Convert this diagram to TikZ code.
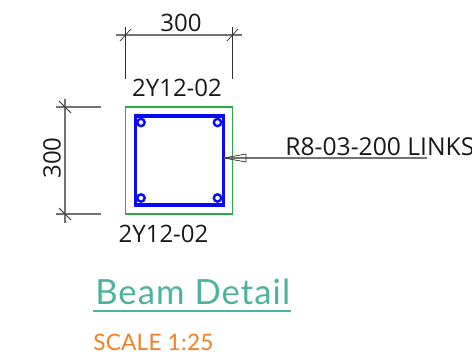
\documentclass[tikz,border=0pt]{standalone}
\usepackage{fontspec}
\setmainfont{Open Sans}
\newfontfamily\titlefont[LetterSpace=3]{Lato}
\newfontfamily\scalefont[LetterSpace=1]{Lato}
\definecolor{titlecol}{HTML}{4DB3A0}
\definecolor{scalecol}{HTML}{F57F25}
\definecolor{barblue}{HTML}{0A0AF0}
\definecolor{outline}{HTML}{2DAA48}
\tikzset{
  dimline/.style={draw=black!55,line width=1pt},
  extline/.style={draw=black!80,line width=0.75pt},
  tickline/.style={draw=black!80,line width=0.55pt},
  lbl/.style={inner sep=0pt,font=\fontsize{18}{20}\selectfont,text=black!90},
  bar/.style={draw=barblue,line width=1.8pt,fill=white}
}
\begin{document}
\begin{tikzpicture}[x=0.75pt,y=-0.75pt]
\useasboundingbox (0,0) rectangle (472,360);
\clip (0,0) rectangle (472,360);
% beam outline and link
\draw[draw=outline,line width=1.05pt] (125.7,107) rectangle (232.5,214);
\draw[draw=barblue,line width=2.5pt] (135.5,116) rectangle (223.5,205);
\foreach \nm/\px/\py in {ba/141/122.5,bb/217.5/122.5,bc/141/198,bd/217.5/198}
  \node[circle,bar,minimum size=5.5pt,inner sep=0pt] (\nm) at (\px,\py) {};
% top dimension
\coordinate (t1) at (116,35); \coordinate (t2) at (241.5,35);
\coordinate (t1a) at (125.7,27); \coordinate (t1b) at (125.7,79);
\coordinate (t2a) at (232.3,27); \coordinate (t2b) at (232.3,79);
\draw[dimline] (t1) -- (t2);
\draw[extline] (t1a) -- (t1b);
\draw[extline] (t2a) -- (t2b);
\draw[tickline] (120,41) -- (131,29);
\draw[tickline] (227,41) -- (238,29);
% left dimension
\coordinate (l1) at (65,99); \coordinate (l2) at (65,223);
\coordinate (l1a) at (56,107); \coordinate (l1b) at (101,107);
\coordinate (l2a) at (56,214); \coordinate (l2b) at (101,214);
\draw[dimline] (l1) -- (l2);
\draw[dimline] (l1a) -- (l1b);
\draw[dimline] (l2a) -- (l2b);
\draw[tickline] (59,101) -- (71,113);
\draw[tickline] (59,208) -- (71,220);
% leader
\coordinate (tip) at (224,158); \coordinate (lend) at (427,158);
\draw[dimline] (lend) -- (tip);
\draw[tickline] (tip) -- (246,154) -- (246,162) -- cycle;
% labels
\node[lbl] (d1) at (181,23) {300};
\node[lbl] (d2) at (52,158) [rotate=90] {300};
\node[lbl] (b1) at (177,88) {2Y12-02};
\node[lbl] (b2) at (163.5,233.5) {2Y12-02};
\node[lbl,anchor=base west,font=\fontsize{18.5}{20}\selectfont] (link) at (285,156) {R8-03-200 LINKS};
\node[inner sep=0pt,anchor=base west,text=titlecol,font=\titlefont\fontsize{26}{30}\selectfont] (title) at (95,305) {Beam Detail};
\coordinate (u1) at (93,310.7); \coordinate (u2) at (291,310.7);
\draw[draw=titlecol,line width=1.5pt] (u1) -- (u2);
\node[inner sep=0pt,anchor=base west,text=scalecol,font=\scalefont\fontsize{17}{20}\selectfont] (scale) at (93,350) {SCALE 1:25};
\end{tikzpicture}
\end{document}
